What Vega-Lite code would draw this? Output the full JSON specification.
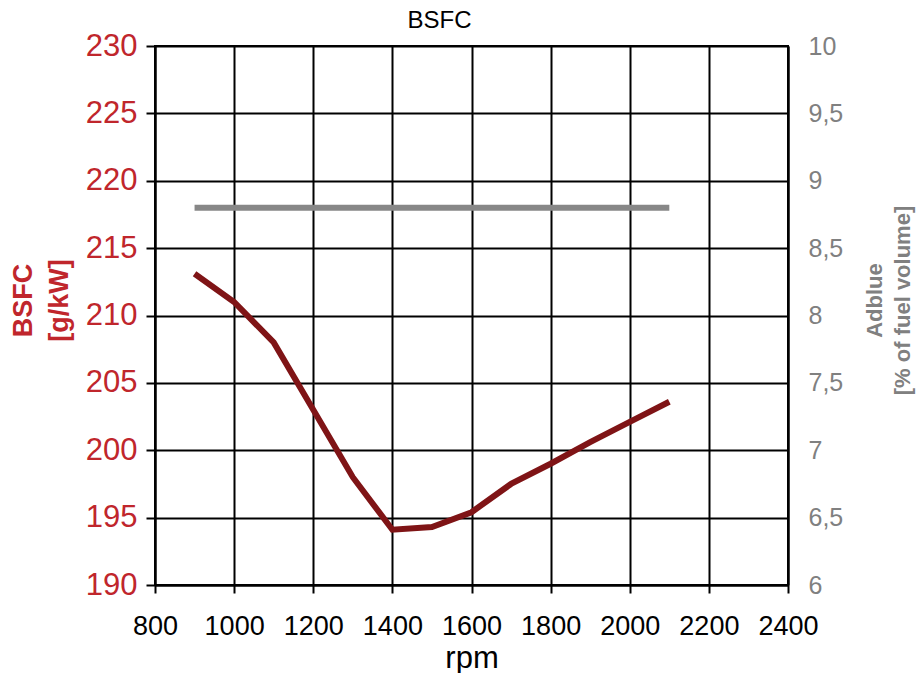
{
  "$schema": "https://vega.github.io/schema/vega-lite/v6.json",
  "autosize": "none",
  "width": 633,
  "height": 539,
  "padding": {"left": 155, "top": 46, "right": 131, "bottom": 88},
  "background": "white",
  "config": {
    "font": "Liberation Sans",
    "view": {"stroke": "black", "strokeWidth": 2}
  },
  "title": {"text": "BSFC", "fontSize": 24, "fontWeight": "normal", "color": "black", "font": "Liberation Sans", "dx": -32, "offset": -3},
  "data": {
    "values": [
      {"rpm": 900, "bsfc": 213.1, "adblue": 8.8},
      {"rpm": 1000, "bsfc": 211.0, "adblue": 8.8},
      {"rpm": 1100, "bsfc": 208.0, "adblue": 8.8},
      {"rpm": 1200, "bsfc": 203.0, "adblue": 8.8},
      {"rpm": 1300, "bsfc": 198.0, "adblue": 8.8},
      {"rpm": 1400, "bsfc": 194.1, "adblue": 8.8},
      {"rpm": 1500, "bsfc": 194.3, "adblue": 8.8},
      {"rpm": 1600, "bsfc": 195.4, "adblue": 8.8},
      {"rpm": 1700, "bsfc": 197.5, "adblue": 8.8},
      {"rpm": 1800, "bsfc": 199.0, "adblue": 8.8},
      {"rpm": 1900, "bsfc": 200.6, "adblue": 8.8},
      {"rpm": 2000, "bsfc": 202.1, "adblue": 8.8},
      {"rpm": 2100, "bsfc": 203.6, "adblue": 8.8}
    ]
  },
  "encoding": {
    "x": {
      "field": "rpm", "type": "quantitative",
      "scale": {"domain": [800, 2400], "nice": false, "zero": false},
      "axis": {
        "values": [800, 1000, 1200, 1400, 1600, 1800, 2000, 2200, 2400],
        "format": "d",
        "title": "rpm", "titleFontSize": 31, "titleFontWeight": "normal", "titleColor": "black", "titlePadding": 4,
        "labelFontSize": 27, "labelColor": "black", "labelPadding": 20, "labelFlush": false,
        "domainColor": "black", "domainWidth": 2, "tickColor": "black", "tickWidth": 2, "tickSize": 8,
        "grid": true, "gridColor": "black", "gridWidth": 2, "gridOpacity": 1
      }
    }
  },
  "layer": [
    {
      "mark": {"type": "line", "color": "#7f1416", "strokeWidth": 6, "strokeCap": "butt", "strokeJoin": "miter"},
      "encoding": {
        "y": {
          "field": "bsfc", "type": "quantitative",
          "scale": {"domain": [190, 230], "nice": false, "zero": false},
          "axis": {
            "orient": "left",
            "values": [190, 195, 200, 205, 210, 215, 220, 225, 230],
            "title": ["BSFC", "[g/kW]"], "titleFontSize": 27, "titleFontWeight": "bold", "titleColor": "#c0262c",
            "titleLineHeight": 36, "titlePadding": 12, "titleY": 254,
            "labelFontSize": 31, "labelColor": "#c0262c", "labelPadding": 9, "labelFlush": false,
            "domainColor": "black", "domainWidth": 2, "tickColor": "black", "tickWidth": 2, "tickSize": 9,
            "grid": true, "gridColor": "black", "gridWidth": 2, "gridOpacity": 1
          }
        }
      }
    },
    {
      "mark": {"type": "line", "color": "#878787", "strokeWidth": 6, "strokeCap": "butt"},
      "encoding": {
        "y": {
          "field": "adblue", "type": "quantitative",
          "scale": {"domain": [6, 10], "nice": false, "zero": false},
          "axis": {
            "orient": "right",
            "values": [6, 6.5, 7, 7.5, 8, 8.5, 9, 9.5, 10],
            "labelExpr": "replace(toString(datum.value), '.', ',')",
            "title": ["Adblue", "[% of fuel volume]"], "titleFontSize": 22, "titleFontWeight": "bold", "titleColor": "#808080",
            "titleAngle": -90, "titleLineHeight": 28, "titlePadding": 16, "titleY": 254,
            "labelFontSize": 25, "labelColor": "#808080", "labelPadding": 20, "labelFlush": false,
            "domainColor": "black", "domainWidth": 2, "ticks": false,
            "grid": false
          }
        }
      }
    }
  ],
  "resolve": {"scale": {"y": "independent"}}
}
